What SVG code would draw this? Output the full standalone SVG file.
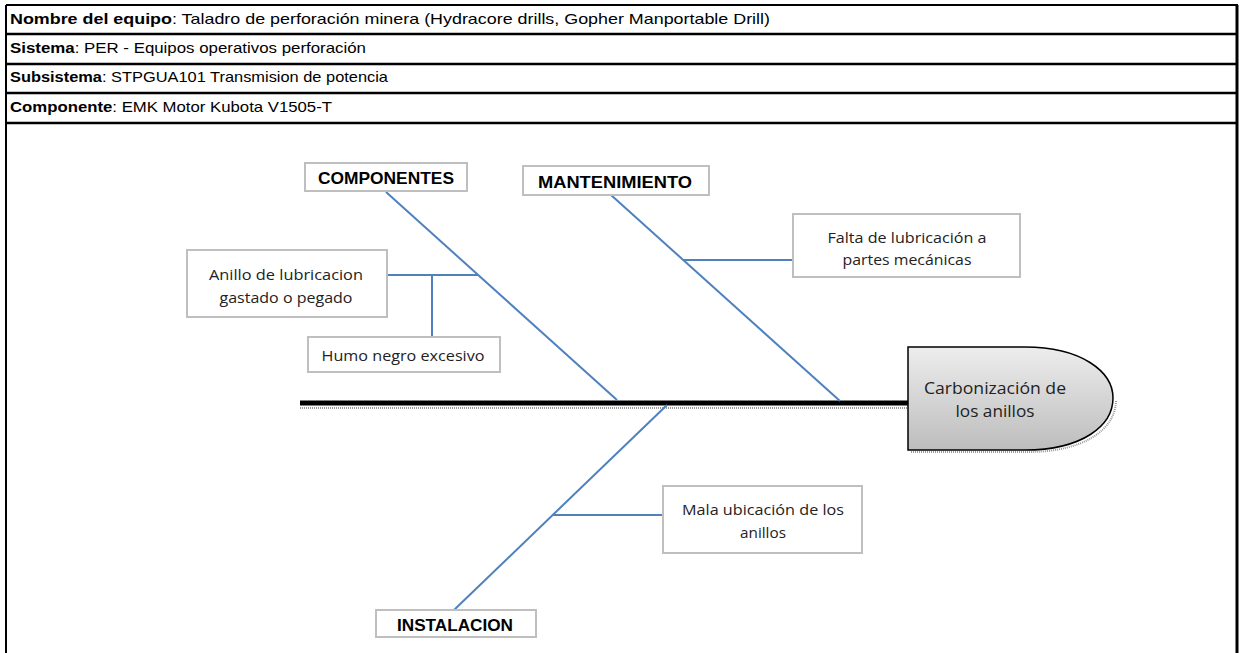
<svg xmlns="http://www.w3.org/2000/svg" width="1243" height="653" viewBox="0 0 1243 653">
<defs>
<linearGradient id="headGrad" x1="0" y1="0" x2="0" y2="1">
<stop offset="0" stop-color="#ededed"/>
<stop offset="1" stop-color="#bdbdbd"/>
</linearGradient>
<style>
.hdr{font-family:"Liberation Sans",Arial,sans-serif;font-size:14.5px;fill:#000}
.b{font-weight:bold}
.cat{font-family:"Liberation Sans",Arial,sans-serif;font-size:17px;font-weight:bold;fill:#000;text-anchor:middle}
.lbl{font-family:"Open Sans","Liberation Sans",Arial,sans-serif;font-size:15px;fill:#222;text-anchor:middle}
.box{fill:#fff;stroke:#bfbfbf;stroke-width:2}
.bone{stroke:#4f81bd;stroke-width:2;fill:none}
.frame{fill:none;stroke:#000;stroke-width:2}
</style>
</defs>
<rect width="1243" height="653" fill="#fff"/>
<g id="header">
<line class="frame" x1="6" y1="5" x2="1238" y2="5"/>
<line class="frame" x1="6" y1="5" x2="6" y2="653"/>
<line class="frame" x1="1237" y1="5" x2="1237" y2="653" style="stroke-width:3"/>
<line class="frame" x1="6" y1="34" x2="1238" y2="34" style="stroke-width:2.5"/>
<line class="frame" x1="6" y1="64" x2="1238" y2="64" style="stroke-width:2.5"/>
<line class="frame" x1="6" y1="93" x2="1238" y2="93" style="stroke-width:2.5"/>
<line class="frame" x1="6" y1="123" x2="1238" y2="123" style="stroke-width:2.5"/>
<text class="hdr" x="10" y="24" textLength="760" lengthAdjust="spacingAndGlyphs"><tspan class="b">Nombre del equipo</tspan>: Taladro de perforación minera (Hydracore drills, Gopher Manportable Drill)</text>
<text class="hdr" x="10" y="53" textLength="356" lengthAdjust="spacingAndGlyphs"><tspan class="b">Sistema</tspan>: PER - Equipos operativos perforación</text>
<text class="hdr" x="10" y="82" textLength="378" lengthAdjust="spacingAndGlyphs"><tspan class="b">Subsistema</tspan>: STPGUA101 Transmision de potencia</text>
<text class="hdr" x="10" y="112" textLength="322" lengthAdjust="spacingAndGlyphs"><tspan class="b">Componente</tspan>: EMK Motor Kubota V1505-T</text>
</g>
<g id="connectors">
<line x1="300" y1="408" x2="908" y2="408" stroke="#9a9a9a" stroke-width="2" stroke-dasharray="1 1"/>
<line x1="300" y1="403" x2="908" y2="403" stroke="#000" stroke-width="5"/>
<line class="bone" x1="386" y1="192" x2="617" y2="400"/>
<line class="bone" x1="611" y1="195" x2="840" y2="401"/>
<line class="bone" x1="454" y1="610" x2="667" y2="405"/>
<line class="bone" x1="387" y1="275" x2="478" y2="275"/>
<line class="bone" x1="432" y1="275" x2="432" y2="337"/>
<line class="bone" x1="683" y1="260" x2="793" y2="260"/>
<line class="bone" x1="553" y1="515" x2="663" y2="515"/>
</g>
<g id="head">
<path d="M911,452 L1028,452 C1083,452 1116,430 1116,400" fill="none" stroke="#9a9a9a" stroke-width="2" stroke-dasharray="1 1"/>
<path d="M908,347 L1025,347 C1082,347 1113,372 1113,398 C1113,426 1082,450 1025,450 L908,450 Z" fill="url(#headGrad)" stroke="#000" stroke-width="1.5"/>
<text class="lbl" x="995" y="394" style="font-size:17px" textLength="142" lengthAdjust="spacingAndGlyphs">Carbonización de</text>
<text class="lbl" x="995" y="417" style="font-size:17px" textLength="79" lengthAdjust="spacingAndGlyphs">los anillos</text>
</g>
<g id="cat-componentes">
<rect class="box" x="305" y="163" width="162" height="28"/>
<text class="cat" x="386" y="184" textLength="136" lengthAdjust="spacingAndGlyphs">COMPONENTES</text>
</g>
<g id="cat-mantenimiento">
<rect class="box" x="523" y="166" width="186" height="29"/>
<text class="cat" x="615" y="188" textLength="154" lengthAdjust="spacingAndGlyphs">MANTENIMIENTO</text>
</g>
<g id="cat-instalacion">
<rect class="box" x="376" y="610" width="160" height="27"/>
<text class="cat" x="455" y="631" textLength="116" lengthAdjust="spacingAndGlyphs">INSTALACION</text>
</g>
<g id="cause-anillo">
<rect class="box" x="187" y="250" width="200" height="67"/>
<text class="lbl" x="286" y="280" textLength="154" lengthAdjust="spacingAndGlyphs">Anillo de lubricacion</text>
<text class="lbl" x="286" y="303" textLength="133" lengthAdjust="spacingAndGlyphs">gastado o pegado</text>
</g>
<g id="cause-humo">
<rect class="box" x="308" y="337" width="192" height="35"/>
<text class="lbl" x="403" y="361" textLength="163" lengthAdjust="spacingAndGlyphs">Humo negro excesivo</text>
</g>
<g id="cause-falta">
<rect class="box" x="793" y="214" width="227" height="63"/>
<text class="lbl" x="907" y="243" textLength="159" lengthAdjust="spacingAndGlyphs">Falta de lubricación a</text>
<text class="lbl" x="907" y="265" textLength="129" lengthAdjust="spacingAndGlyphs">partes mecánicas</text>
</g>
<g id="cause-mala">
<rect class="box" x="663" y="486" width="199" height="67"/>
<text class="lbl" x="763" y="515" textLength="162" lengthAdjust="spacingAndGlyphs">Mala ubicación de los</text>
<text class="lbl" x="763" y="538" textLength="46" lengthAdjust="spacingAndGlyphs">anillos</text>
</g>
</svg>
